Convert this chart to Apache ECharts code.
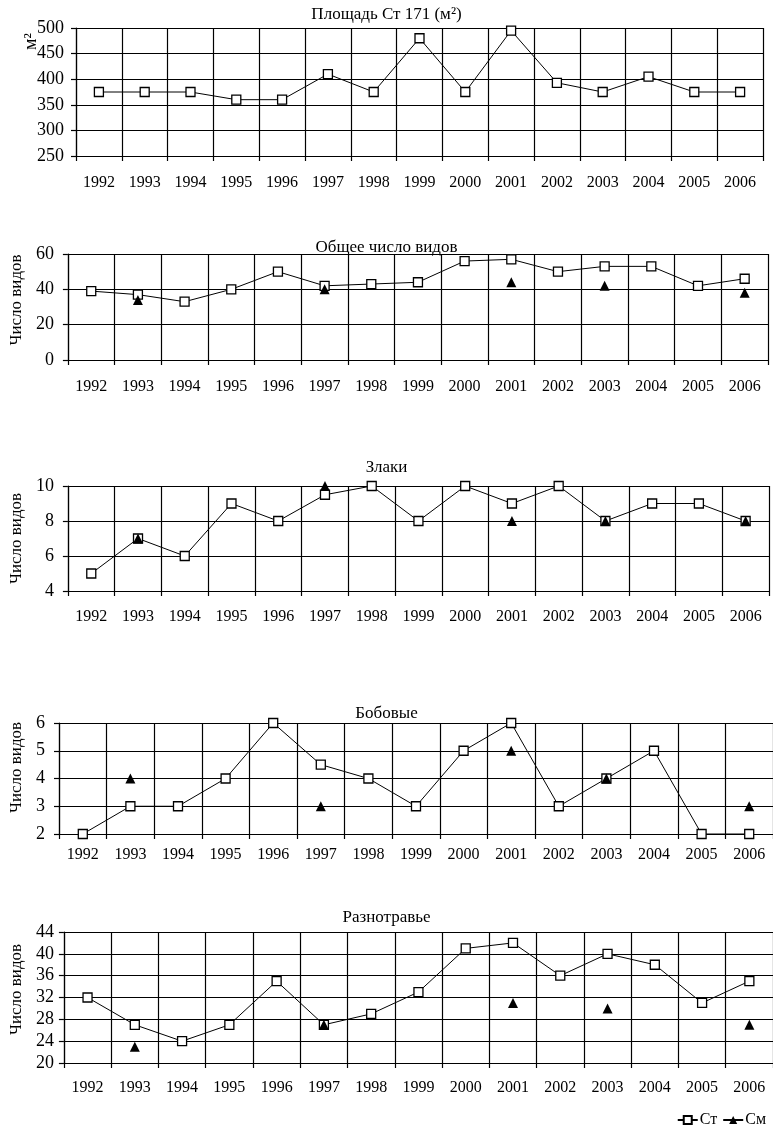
<!DOCTYPE html>
<html>
<head>
<meta charset="utf-8">
<script src="https://cdn.jsdelivr.net/npm/echarts@6/dist/echarts.min.js"></script>
<style>
  html, body { margin: 0; padding: 0; background: #fff; }
  #chart { width: 773px; height: 1132px; }
</style>
</head>
<body>
<div id="chart"></div>
<script>
// Years shared by all five panels
const years = ['1992','1993','1994','1995','1996','1997','1998','1999','2000','2001','2002','2003','2004','2005','2006'];

// Площадь Ст 171 (м²)
const areaSt = [375, 375, 375, 360, 360, 410, 375, 480, 375, 495, 393, 375, 405, 375, 375];

// Общее число видов
const totalSt = [39, 37, 33, 40, 50, 42, 43, 44, 56, 57, 50, 53, 53, 42, 46];
const totalSm = [null, 34, null, null, null, 40, null, null, null, 44, null, 42, null, null, 38];

// Злаки
const grassSt = [5, 7, 6, 9, 8, 9.5, 10, 8, 10, 9, 10, 8, 9, 9, 8];
const grassSm = [null, 7, null, null, null, 10, null, null, null, 8, null, 8, null, null, 8];

// Бобовые
const legumeSt = [2, 3, 3, 4, 6, 4.5, 4, 3, 5, 6, 3, 4, 5, 2, 2];
const legumeSm = [null, 4, null, null, null, 3, null, null, null, 5, null, 4, null, null, 3];

// Разнотравье
const forbSt = [32, 27, 24, 27, 35, 27, 29, 33, 41, 42, 36, 40, 38, 31, 35];
const forbSm = [null, 23, null, null, null, 27, null, null, null, 31, null, 30, null, null, 27];

const panelTitles = ['Площадь Ст 171 (м²)', 'Общее число видов', 'Злаки', 'Бобовые', 'Разнотравье'];
const yNames = ['', 'Число видов', 'Число видов', 'Число видов', 'Число видов'];
const seriesNames = ['Ст', 'См'];

const FONT = '"Liberation Serif", "Times New Roman", serif';

// panel geometry and scales
const panels = [
  { left: 76, top: 28,  width: 687, height: 128, min: 250, max: 500, interval: 50, st: areaSt, sm: null,
    titleTop: 6, xMargin: 19, yMargin: 12, yFont: 18, nameGap: 40, nameShift: 0 },
  { left: 65, top: 254, width: 703, height: 106, min: 0,   max: 60,  interval: 20, st: totalSt, sm: totalSm,
    titleTop: 239, xMargin: 19, yMargin: 14, yFont: 18, nameGap: 38, nameShift: 14 },
  { left: 65, top: 486, width: 704, height: 105, min: 4,   max: 10,  interval: 2,  st: grassSt, sm: grassSm,
    titleTop: 459, xMargin: 18, yMargin: 14, yFont: 18, nameGap: 38, nameShift: 0 },
  { left: 59, top: 723, width: 714, height: 111, min: 2,   max: 6,   interval: 1,  st: legumeSt, sm: legumeSm,
    titleTop: 705, xMargin: 13, yMargin: 14, yFont: 18, nameGap: 32, nameShift: 22 },
  { left: 60, top: 932, width: 713, height: 131, min: 20,  max: 44,  interval: 4,  st: forbSt, sm: forbSm,
    titleTop: 909, xMargin: 17, yMargin: 10, yFont: 18, nameGap: 33, nameShift: 16 }
];

const grid = [], xAxis = [], yAxis = [], series = [], title = [];

panels.forEach((p, i) => {
  grid.push({ left: p.left, top: p.top, width: p.width, height: p.height, containLabel: false });
  title.push({
    text: panelTitles[i], left: 'center', top: p.titleTop, padding: 0,
    textStyle: { fontFamily: FONT, fontSize: 17, fontWeight: 'normal', color: '#000' }
  });
  xAxis.push({
    type: 'category', gridIndex: i, data: years, boundaryGap: true,
    axisLine: { show: true, lineStyle: { color: '#000', width: 1.2 } },
    axisTick: { show: true, length: 5, alignWithLabel: false, lineStyle: { color: '#000', width: 1.2 } },
    axisLabel: { color: '#000', fontFamily: FONT, fontSize: 16, margin: p.xMargin, interval: 0 },
    splitLine: { show: true, lineStyle: { color: '#000', width: 1.2 } }
  });
  yAxis.push({
    type: 'value', gridIndex: i, min: p.min, max: p.max, interval: p.interval,
    name: yNames[i], nameLocation: 'middle', nameGap: p.nameGap, nameRotate: 90,
    nameTextStyle: { color: '#000', fontFamily: FONT, fontSize: 17, padding: [0, 0, 0, p.nameShift] },
    axisLine: { show: true, lineStyle: { color: '#000', width: 1.2 } },
    axisTick: { show: true, length: 5, lineStyle: { color: '#000', width: 1.2 } },
    axisLabel: { color: '#000', fontFamily: FONT, fontSize: p.yFont, margin: p.yMargin },
    splitLine: { show: true, lineStyle: { color: '#000', width: 1.2 } }
  });
  series.push({
    name: seriesNames[0], type: 'line', xAxisIndex: i, yAxisIndex: i, data: p.st,
    symbol: 'rect', symbolSize: 9, showAllSymbol: true, animation: false,
    lineStyle: { color: '#000', width: 1 },
    itemStyle: { color: '#fff', borderColor: '#000', borderWidth: 1.3 },
    z: 3
  });
  if (p.sm) {
    series.push({
      name: seriesNames[1], type: 'line', xAxisIndex: i, yAxisIndex: i, data: p.sm,
      symbol: 'triangle', symbolSize: 10, showAllSymbol: true, connectNulls: false, animation: false,
      lineStyle: { color: '#000', width: 1 },
      itemStyle: { color: '#000', borderColor: '#000', borderWidth: 0 },
      z: 4
    });
  }
});

const chart = echarts.init(document.getElementById('chart'), null, { renderer: 'canvas' });
chart.setOption({
  backgroundColor: '#fff',
  animation: false,
  title: title,
  grid: grid,
  xAxis: xAxis,
  yAxis: yAxis,
  series: series,
  legend: {
    data: seriesNames, right: 2, top: 1107, itemWidth: 20, itemHeight: 10, itemGap: 5,
    textStyle: { color: '#000', fontFamily: FONT, fontSize: 16, padding: [0, 0, 0, -3] }
  },
  graphic: [{
    type: 'text', x: 22, y: 50, rotation: Math.PI / 2,
    style: { text: 'м²', fill: '#000', font: '18px ' + FONT }
  }]
});
</script>
</body>
</html>
